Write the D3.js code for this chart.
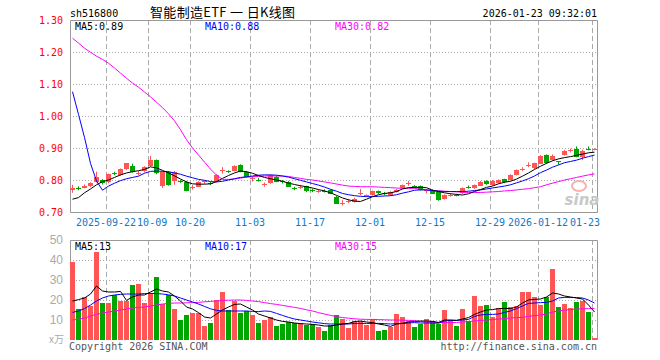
<!DOCTYPE html>
<html><head><meta charset="utf-8">
<script src="https://cdn.jsdelivr.net/npm/d3@7/dist/d3.min.js"></script>
<style>body{margin:0;background:#fff}svg{display:block}</style>
</head><body><svg id="c" width="660" height="360"></svg>
<script>
const dates = [
"2025-09-12","2025-09-15","2025-09-16","2025-09-17","2025-09-18","2025-09-19","2025-09-22","2025-09-23","2025-09-24","2025-09-25","2025-09-26","2025-09-29","2025-09-30",
"2025-10-09","2025-10-10","2025-10-13","2025-10-14","2025-10-15","2025-10-16","2025-10-17","2025-10-20","2025-10-21","2025-10-22","2025-10-23","2025-10-24","2025-10-27","2025-10-28","2025-10-29","2025-10-30","2025-10-31",
"2025-11-03","2025-11-04","2025-11-05","2025-11-06","2025-11-07","2025-11-10","2025-11-11","2025-11-12","2025-11-13","2025-11-14","2025-11-17","2025-11-18","2025-11-19","2025-11-20","2025-11-21","2025-11-24","2025-11-25","2025-11-26","2025-11-27","2025-11-28",
"2025-12-01","2025-12-02","2025-12-03","2025-12-04","2025-12-05","2025-12-08","2025-12-09","2025-12-10","2025-12-11","2025-12-12","2025-12-15","2025-12-16","2025-12-17","2025-12-18","2025-12-19","2025-12-22","2025-12-23","2025-12-24","2025-12-25","2025-12-26","2025-12-29","2025-12-30","2025-12-31",
"2026-01-05","2026-01-06","2026-01-07","2026-01-08","2026-01-09","2026-01-12","2026-01-13","2026-01-14","2026-01-15","2026-01-16","2026-01-19","2026-01-20","2026-01-21","2026-01-22","2026-01-23"];

const openP = [.768,.775,.776,.780,.795,.800,.792,.821,.815,.833,.844,.819,.826,.844,.862,.779,.826,.798,.797,.795,.776,.780,.794,.791,.795,
.828,.827,.829,.847,.826,.804,.801,.785,.790,.810,.796,.795,.775,.777,.780,.768,.764,.767,.769,.748,.727,.733,.732,.758,.750,
.753,.765,.759,.753,.763,.774,.789,.781,.781,.766,.769,.764,.741,.752,.754,.758,.777,.774,.784,.797,.784,.790,.802,
.800,.816,.832,.846,.836,.852,.878,.862,.858,.878,.891,.897,.873,.897,.895];
const closeP = [.775,.773,.782,.790,.810,.790,.818,.819,.834,.852,.826,.822,.840,.862,.820,.824,.784,.826,.795,.767,.778,.795,.796,.789,.815,
.830,.825,.844,.826,.810,.806,.799,.787,.815,.795,.794,.780,.773,.779,.764,.766,.766,.765,.758,.727,.729,.735,.742,.760,.753,
.765,.758,.757,.763,.770,.784,.791,.779,.769,.768,.758,.738,.753,.754,.752,.774,.776,.784,.795,.787,.797,.800,.792,
.816,.831,.834,.848,.852,.876,.852,.875,.856,.892,.893,.873,.892,.895,.897];
const highP = [.785,.780,.786,.793,.826,.803,.820,.826,.836,.853,.851,.828,.843,.875,.864,.826,.828,.828,.800,.797,.784,.797,.800,.795,.818,
.840,.830,.846,.849,.828,.812,.806,.792,.817,.812,.800,.797,.779,.785,.782,.773,.771,.771,.771,.750,.737,.741,.745,.772,.755,
.767,.767,.763,.765,.772,.786,.797,.784,.783,.771,.771,.766,.755,.758,.757,.777,.783,.786,.797,.799,.800,.802,.804,
.818,.833,.840,.855,.854,.878,.880,.880,.858,.894,.898,.905,.895,.905,.899];
const lowP = [.760,.768,.774,.778,.792,.786,.790,.815,.813,.831,.823,.815,.824,.842,.818,.775,.782,.785,.791,.765,.770,.778,.788,.784,.793,
.820,.822,.827,.824,.808,.795,.795,.779,.788,.793,.789,.778,.768,.772,.762,.762,.760,.761,.756,.725,.720,.728,.730,.752,.748,
.751,.756,.752,.750,.761,.772,.782,.775,.767,.758,.756,.735,.739,.748,.749,.756,.773,.772,.782,.785,.782,.788,.790,
.798,.814,.828,.840,.834,.850,.850,.860,.848,.876,.886,.871,.862,.893,.893];
const volume = [39.2,15.5,21.3,17,44.2,18.7,18.7,22.5,19.7,19.7,27.5,28.2,18.7,23.7,31.5,18,22.5,15.5,10,12.5,13.7,13.7,7,8.5,20,
24,15,19.5,13.7,14.5,12.5,8.5,10,11.5,7,8,8.8,8.5,8.5,7.3,8,6.5,4.7,7.3,12.3,10.5,6.2,9.5,9.5,7.3,
10.3,4.7,5.2,6.5,13,11.5,9.7,6.5,8,10.5,9.5,8,15,10,7,15.5,9.5,22,17,17.5,11.5,16,19,
16.5,17,24,24,21.5,17.5,21.5,35.5,16.5,18,16,19,19.5,14,1];
const ma5 = [.740,.745,.760,.772,.785,.795,.800,.808,.816,.822,.826,.829,.833,.841,.838,.830,.822,.813,.803,.794,.788,.787,.787,.788,.795,
.805,.814,.822,.828,.826,.821,.814,.808,.804,.800,.796,.790,.786,.782,.779,.775,.770,.766,.760,.752,.744,.738,.734,.733,.740,
.748,.754,.758,.760,.764,.772,.776,.777,.777,.776,.768,.764,.760,.757,.755,.753,.757,.764,.770,.777,.781,.788,.793,
.796,.803,.812,.822,.833,.843,.852,.860,.866,.870,.873,.877,.881,.885,.887];
const ma10 = [1.076,1.005,.933,.852,.797,.768,.781,.790,.798,.804,.808,.812,.821,.827,.828,.827,.826,.822,.818,.812,.807,.802,.799,.795,.794,
.796,.800,.804,.808,.810,.8125,.815,.816,.816,.815,.8125,.809,.804,.799,.794,.789,.784,.778,.771,.765,.758,.754,.751,.749,.748,
.748,.749,.750,.751,.754,.759,.763,.768,.769,.769,.767,.765,.764,.764,.764,.764,.765,.767,.769,.772,.775,.778,.781,
.785,.791,.797,.804,.8125,.823,.831,.840,.847,.854,.858,.862,.868,.873,.878];
const ma30 = [1.243,1.228,1.212,1.199,1.187,1.177,1.165,1.150,1.134,1.118,1.103,1.090,1.075,1.060,1.043,1.026,1.007,.985,.957,.926,.900,.878,.856,.834,.815,
.802,.802,.803,.806,.809,.810,.811,.8125,.8125,.8125,.8125,.811,.808,.805,.802,.800,.797,.794,.791,.7875,.784,.781,.780,.779,.779,
.779,.778,.777,.776,.775,.774,.774,.774,.771,.769,.767,.766,.765,.764,.763,.762,.761,.761,.761,.762,.763,.764,.766,
.767,.769,.771,.773,.776,.779,.785,.790,.795,.800,.804,.808,.812,.816,.819];
const vma5 = [19.5,20.2,21,23,27,24.5,24,24,24.3,19.8,21.5,22.5,22.5,24,25.5,24.5,24,22,19.5,16.5,15.5,13.7,11.5,11,13,
15,16.5,17.8,18,16.5,15,13,12,11,10,9.3,9,8.5,8.2,8,7.8,7.5,7,7,7.5,8,8.3,9.2,9.5,9,
8.7,8,7.5,6.8,8,8.3,9,9.3,9.5,9.5,9.3,8.8,10,10,9.8,10.5,11.2,12.8,14,15,15.2,15.7,15.8,
15.7,16.5,18.5,20,20.3,20.5,21.5,23.5,23,22,21.5,21,20.5,17.5,14];
const vma10 = [13.8,14.5,15.7,17.5,19.5,21,22,22.5,22.8,23,23,23,23.2,23.3,23.2,23,22.6,22,21,20,19,18,16.8,15.6,14.8,
14.5,14.5,14.5,14.5,14.5,14.3,14.2,14.5,14.3,13.3,12.3,11.3,10.5,10,9.5,9,8.6,8.2,8,8,8,8,8.3,8.3,8.3,
8.3,8.3,8.2,8,8.2,8.3,8.5,8.7,8.5,8.5,8.5,8.4,9.5,9.8,9.8,10,10.3,11.8,12.5,12.8,12.8,13,13.8,
14.5,15.7,17,18.3,18.5,18.7,18.8,19.5,21,21.3,21.3,21.2,21,20,18.5];
const vma30 = [10,10.4,11,12,12.8,13.5,14,14.5,15,15.5,16,16.3,16.5,17,17.5,18,18.3,18.5,18.5,18.6,18.7,18.8,19.1,19.3,19.5,
19.8,19.9,20,20,19.8,19.5,19.2,18.7,18.2,17.8,17.3,16.8,16.3,15.8,15.1,14.5,13.7,13,12.3,11.7,11.2,10.9,10.6,10.4,10.3,
10.3,10.2,10.1,10,10,9.9,9.8,9.7,9.2,9,8.8,8.7,8.7,8.7,8.8,9,9.2,9.5,9.8,10,10.2,10.5,10.7,
11,11.2,11.3,11.8,12.2,12.5,13,14,14.5,15,15.2,15.5,15.6,15.7,15.8];
const tickDates = ["2025-09-22","2025-10-09","2025-10-20","2025-11-03","2025-11-17","2025-12-01","2025-12-15","2025-12-29","2026-01-12","2026-01-23"];
const tickLabels = ["2025-09-22","10-09","10-20","11-03","11-17","12-01","12-15","12-29","2026-01-12","01-23"];
const priceTicks = [0.70,0.80,0.90,1.00,1.10,1.20,1.30];
const volTicks = [10,20,30,40,50];
const title = "智能制造ETF 一 日K线图";
const code = "sh516800";
const stamp = "2026-01-23 09:32:01";
const maPriceLabels = ["MA5:0.89","MA10:0.88","MA30:0.82"];
const maVolLabels = ["MA5:13","MA10:17","MA30:15"];

const RED = "#ff5555", GREEN = "#00a600", GRID = "#aaa", FRAME = "#999";
const MONO = "'DejaVu Sans Mono', 'Liberation Mono', monospace";
const svg = d3.select("#c");
const L = 70, R = 598, PT = 20, PB = 212, VT = 240, VB = 340;

const x = d3.scaleBand().domain(dates).range([L, R]).paddingInner(1/6).paddingOuter(1/12).align(0);
const cx = d => x(d) + 2.5;
const yP = d3.scaleLinear().domain([0.70, 1.30]).range([PB, PT]);
const yV = d3.scaleLinear().domain([0, 50]).range([VB, VT]);

// grids
const g = svg.append("g");
[[PT, PB], [VT, VB]].forEach(([t, b]) => {
  g.selectAll(null).data(tickDates).join("line")
    .attr("x1", d => x(d) + 0.5).attr("x2", d => x(d) + 0.5)
    .attr("y1", t).attr("y2", b)
    .attr("stroke", GRID).attr("stroke-dasharray", "5,3");
});
g.selectAll(null).data(priceTicks.slice(1, -1)).join("line")
  .attr("x1", L).attr("x2", R).attr("y1", d => Math.round(yP(d)) + 0.5).attr("y2", d => Math.round(yP(d)) + 0.5)
  .attr("stroke", GRID).attr("stroke-dasharray", "1,2");
g.selectAll(null).data(volTicks.slice(0, -1)).join("line")
  .attr("x1", L).attr("x2", R).attr("y1", d => yV(d) + 0.5).attr("y2", d => yV(d) + 0.5)
  .attr("stroke", GRID).attr("stroke-dasharray", "1,2");

// frames
g.append("path").attr("d", `M${L+0.5},${PB+0.5}V${PT+0.5}H${R-0.5}V${PB+0.5}H${L+0.5}`)
  .attr("fill", "none").attr("stroke", FRAME);
g.append("path").attr("d", `M${L+0.5},${VB}V${VT+0.5}H${R-0.5}V${VB}`)
  .attr("fill", "none").attr("stroke", FRAME);

// sina watermark
const wm = svg.append("g");
wm.append("ellipse").attr("cx", 579).attr("cy", 186).attr("rx", 7).attr("ry", 5)
  .attr("fill", "none").attr("stroke", "#f4b0b0").attr("stroke-width", 2);
wm.append("text").attr("x", 582).attr("y", 205).attr("text-anchor", "middle")
  .attr("font-family", "'DejaVu Sans', sans-serif").attr("font-size", 15).attr("font-weight", "bold")
  .attr("font-style", "italic").attr("fill", "#c8c8c8").text("sina");

// candles
const idx = d3.range(dates.length);
const up = i => closeP[i] >= openP[i];
const cg = svg.append("g");
cg.selectAll("line").data(idx).join("line")
  .attr("x1", i => cx(dates[i])).attr("x2", i => cx(dates[i]))
  .attr("y1", i => yP(highP[i])).attr("y2", i => yP(lowP[i]))
  .attr("stroke", i => up(i) ? RED : GREEN);
cg.selectAll("rect").data(idx).join("rect")
  .attr("x", i => x(dates[i])).attr("width", x.bandwidth())
  .attr("y", i => Math.round(yP(Math.max(openP[i], closeP[i]))))
  .attr("height", i => Math.max(1, Math.round(Math.abs(yP(openP[i]) - yP(closeP[i])))))
  .attr("fill", i => up(i) ? RED : GREEN).attr("shape-rendering", "crispEdges");

// volume bars
svg.append("g").selectAll("rect").data(idx).join("rect")
  .attr("x", i => x(dates[i])).attr("width", x.bandwidth())
  .attr("y", i => Math.round(yV(volume[i]))).attr("height", i => VB - Math.round(yV(volume[i])))
  .attr("fill", i => up(i) ? RED : GREEN).attr("shape-rendering", "crispEdges");

// MA lines
const lineP = d3.line().x((v, i) => cx(dates[i])).y(v => yP(v));
const lineV = d3.line().x((v, i) => cx(dates[i])).y(v => yV(v));
[[ma30, "#ff00ff"], [ma10, "#0000ff"], [ma5, "#000"]].forEach(([arr, c]) =>
  svg.append("path").attr("d", lineP(arr)).attr("fill", "none").attr("stroke", c).attr("stroke-width", 1));
[[vma30, "#ff00ff"], [vma10, "#0000ff"], [vma5, "#000"]].forEach(([arr, c]) =>
  svg.append("path").attr("d", lineV(arr)).attr("fill", "none").attr("stroke", c).attr("stroke-width", 1));

// y axes labels
const ay = svg.append("g").attr("transform", `translate(${L - 4},0)`)
  .call(d3.axisLeft(yP).tickValues(priceTicks).tickFormat(d3.format(".2f")).tickSize(0));
ay.select(".domain").remove();
ay.selectAll("text").attr("fill", "#f00").attr("font-family", MONO).attr("font-size", 10);
const av = svg.append("g").attr("transform", `translate(${L - 4},0)`)
  .call(d3.axisLeft(yV).tickValues(volTicks).tickFormat(d3.format("d")).tickSize(0));
av.select(".domain").remove();
av.selectAll("text").attr("fill", "#aaa").attr("font-family", "'Liberation Sans', sans-serif").attr("font-size", 12);
svg.append("text").attr("x", L - 6).attr("y", 343).attr("text-anchor", "end")
  .attr("font-family", "'Noto Sans CJK SC', sans-serif").attr("font-size", 10).attr("fill", "#aaa").text("x万");

// x axis labels: centred on grid line, pushed right so they never overlap, last one clamped near the frame edge
const CW = 6.02;
const pos = tickDates.map((d, i) => { const w = tickLabels[i].length * CW; return { l: x(d) - w / 2, w }; });
for (let i = 1; i < pos.length; i++) if (pos[i].l < pos[i-1].l + pos[i-1].w + 1) pos[i].l = pos[i-1].l + pos[i-1].w + 1;
const lastP = pos[pos.length - 1];
if (lastP.l + lastP.w > R + 2) lastP.l = Math.max(R + 2 - lastP.w, pos[pos.length - 2].l + pos[pos.length - 2].w + 1);
const tickMap = new Map(tickDates.map((d, i) => [d, i]));
const ax = svg.append("g").attr("transform", `translate(0,${PB + 2})`)
  .call(d3.axisBottom(x).tickValues(tickDates).tickFormat(d => tickLabels[tickMap.get(d)]).tickSize(0));
ax.select(".domain").remove();
ax.selectAll(".tick").attr("transform", d => `translate(${pos[tickMap.get(d)].l},0)`);
ax.selectAll("text").attr("fill", "#1478c8").attr("font-family", MONO).attr("font-size", 10)
  .attr("text-anchor", "start").attr("x", 0).attr("dy", "0.9em");

// header
svg.append("text").attr("x", 70).attr("y", 17).attr("font-family", MONO).attr("font-size", 10).attr("fill", "#000").text(code);
svg.append("text").attr("x", 150).attr("y", 17).attr("font-family", "'Noto Sans CJK SC', sans-serif").attr("font-size", 13)
  .attr("fill", "#000").attr("textLength", 145).attr("lengthAdjust", "spacing").text(title);
svg.append("text").attr("x", 597).attr("y", 17).attr("text-anchor", "end").attr("font-family", MONO).attr("font-size", 10).attr("fill", "#000").text(stamp);

// MA labels
const maCols = ["#000", "#0000ff", "#ff00ff"], maX = [75, 205, 335];
maPriceLabels.forEach((t, i) => svg.append("text").attr("x", maX[i]).attr("y", 30).attr("font-family", MONO)
  .attr("font-size", 10).attr("fill", maCols[i]).text(t));
maVolLabels.forEach((t, i) => svg.append("text").attr("x", maX[i]).attr("y", 250).attr("font-family", MONO)
  .attr("font-size", 10).attr("fill", maCols[i]).text(t));

// footer
svg.append("text").attr("x", 69).attr("y", 350).attr("font-family", MONO).attr("font-size", 10).attr("fill", "#555").text("Copyright 2026 SINA.COM");
svg.append("text").attr("x", 597).attr("y", 350).attr("text-anchor", "end").attr("font-family", MONO).attr("font-size", 10).attr("fill", "#555").text("http://finance.sina.com.cn");
</script></body></html>
